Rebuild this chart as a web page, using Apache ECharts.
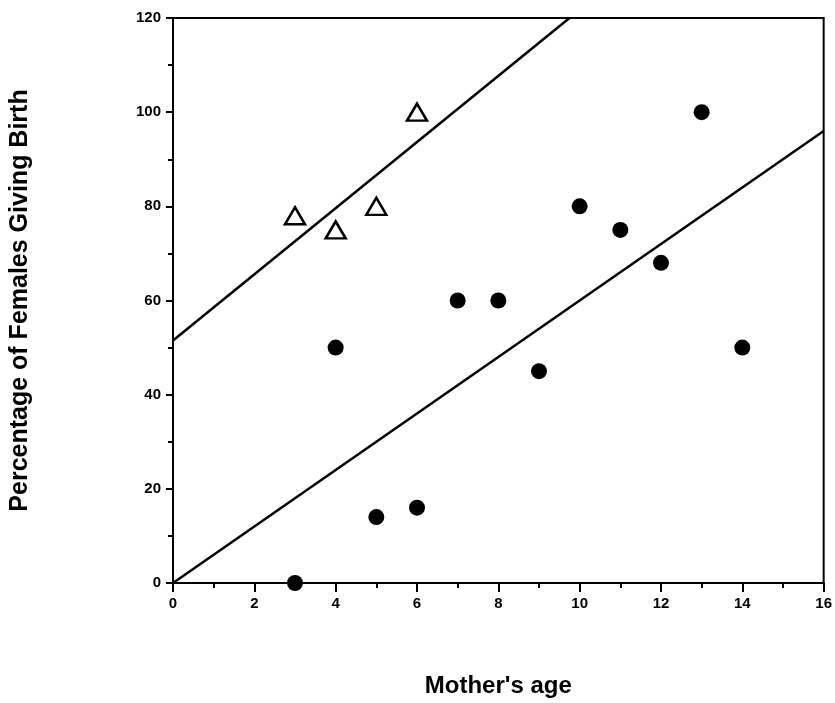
<!DOCTYPE html>
<html><head><meta charset="utf-8">
<script src="https://cdn.jsdelivr.net/npm/echarts@6/dist/echarts.min.js"></script>
<style>html,body{margin:0;padding:0;background:#fff}#c{width:835px;height:703px}</style>
</head><body><div id="c"></div>
<script>
const circleX = [3, 4, 5, 6, 7, 8, 9, 10, 11, 12, 13, 14];
const circleY = [0, 50, 14, 16, 60, 60, 45, 80, 75, 68, 100, 50];
const triangleX = [3, 4, 5, 6];
const triangleY = [78, 75, 80, 100];
const upperLine = [[0, 51.5], [9.75, 120]];
const lowerLine = [[0, 0], [16, 96]];
const xTitle = "Mother's age";
const yTitle = "Percentage of Females Giving Birth";

const FONT = '"Liberation Sans Narrow","Arial Narrow","Liberation Sans",Arial,sans-serif';
const chart = echarts.init(document.getElementById('c'));
chart.setOption({
  animation: false,
  backgroundColor: '#fff',
  grid: {left: 172, right: 8, top: 18, bottom: 119, show: true, borderColor: '#000', borderWidth: 2},
  xAxis: {
    type: 'value', min: 0, max: 16, interval: 2,
    axisLine: {show: true, lineStyle: {color: '#000', width: 2}},
    axisTick: {show: true, length: 9, lineStyle: {color: '#000', width: 2}},
    minorTick: {show: true, splitNumber: 2, length: 5, lineStyle: {color: '#000', width: 2}},
    splitLine: {show: false},
    axisLabel: {color: '#000', fontFamily: FONT, fontWeight: 'bold', fontSize: 15, margin: 13},
    name: xTitle, nameLocation: 'middle', nameGap: 91,
    nameTextStyle: {color: '#000', fontFamily: FONT, fontWeight: 'bold', fontSize: 24}
  },
  yAxis: {
    type: 'value', min: 0, max: 120, interval: 20,
    axisLine: {show: true, lineStyle: {color: '#000', width: 2}},
    axisTick: {show: true, length: 7, lineStyle: {color: '#000', width: 2}},
    minorTick: {show: true, splitNumber: 2, length: 5, lineStyle: {color: '#000', width: 2}},
    splitLine: {show: false},
    axisLabel: {color: '#000', fontFamily: FONT, fontWeight: 'bold', fontSize: 15, margin: 12},
    name: yTitle, nameLocation: 'middle', nameGap: 140, nameRotate: 90,
    nameTextStyle: {color: '#000', fontFamily: FONT, fontWeight: 'bold', fontSize: 25}
  },
  series: [
    {type: 'line', data: upperLine, symbol: 'none', lineStyle: {color: '#000', width: 2.5}, z: 1},
    {type: 'line', data: lowerLine, symbol: 'none', lineStyle: {color: '#000', width: 2.5}, z: 1},
    {type: 'scatter', data: circleX.map((x, i) => [x, circleY[i]]), symbol: 'circle', symbolSize: 16,
     itemStyle: {color: '#000', opacity: 1}, z: 3},
    {type: 'scatter', data: triangleX.map((x, i) => [x, triangleY[i]]), symbol: 'triangle', symbolSize: [20, 17],
     itemStyle: {color: '#fff', borderColor: '#000', borderWidth: 2.5, opacity: 1}, z: 3}
  ]
});
</script></body></html>
